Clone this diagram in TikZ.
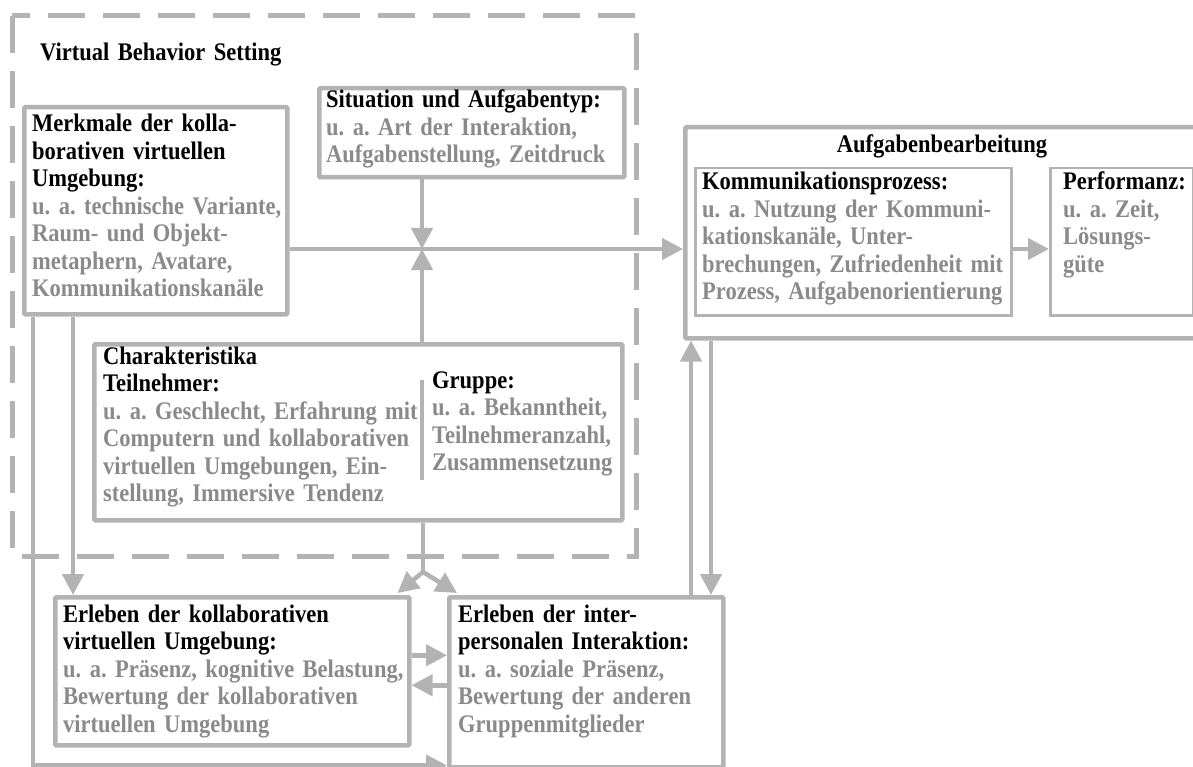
\documentclass[tikz,border=0pt]{standalone}
\usepackage{fontspec}
\setmainfont{Liberation Serif}[FakeStretch=0.89]
\usetikzlibrary{arrows.meta}
\definecolor{lgray}{HTML}{B3B3B3}
\definecolor{tgray}{HTML}{8A8A8A}
\frenchspacing
\begin{document}
\begin{tikzpicture}[x=1pt,y=-1pt,
  box/.style={draw=lgray, line width=4.5pt, inner sep=0pt, anchor=north west, rounded corners=1pt},
  thinbox/.style={draw=lgray, line width=2.5pt, inner sep=0pt, anchor=north west},
  txt/.style={anchor=base west, inner sep=0pt, text width=420pt, align=left,
     font=\fontsize{25.3}{27.5}\selectfont\bfseries\frenchspacing, text=black},
  arr/.style={draw=lgray, line width=4.5pt, -{Triangle[length=21pt,width=21pt]}},
  ln/.style={draw=lgray, line width=4.5pt},
  dashbox/.style={draw=lgray, line width=5pt, dash pattern=on 37pt off 18pt}
]
\useasboundingbox (0,0) rectangle (1193,767);
\clip (0,0) rectangle (1193,767);
% outer dashed setting
\draw[dashbox] (12,16) rectangle (636,556);
\node[txt] (vbs) at (40,61) {Virtual Behavior Setting};

% boxes
\node[box, minimum width=263pt, minimum height=207pt] (merk) at (22,105) {};
\node[box, minimum width=305pt, minimum height=89pt] (sit) at (317,86) {};
\node[box, minimum width=528pt, minimum height=176pt] (char) at (92,342) {};
\node[box, minimum width=530pt, minimum height=211pt] (aufg) at (683,125) {};
\node[thinbox, minimum width=316pt, minimum height=147pt] (komm) at (694,167) {};
\node[thinbox, minimum width=143pt, minimum height=147pt] (perf) at (1049,167) {};
\node[box, minimum width=354pt, minimum height=148pt] (kollab) at (53,595) {};
\node[box, minimum width=274pt, minimum height=170pt] (inter) at (447,595) {};

% texts
\node[txt] (merkT) at (32,132) {Merkmale der kolla-\\borativen virtuellen\\Umgebung:\\\color{tgray}u. a. technische Variante,\\Raum- und Objekt-\\metaphern, Avatare,\\Kommunikationskanäle};
\node[txt] (sitT) at (326,108) {Situation und Aufgabentyp:\\\color{tgray}u. a. Art der Interaktion,\\Aufgabenstellung, Zeitdruck};
\node[txt] (charT) at (103,364) {Charakteristika\\Teilnehmer:\\\color{tgray}u. a. Geschlecht, Erfahrung mit\\Computern und kollaborativen\\virtuellen Umgebungen, Ein-\\stellung, Immersive Tendenz};
\node[txt] (grpT) at (432,388) {Gruppe:\\\color{tgray}u. a. Bekanntheit,\\Teilnehmeranzahl,\\Zusammensetzung};
\node[anchor=base, inner sep=0pt, font=\fontsize{25.3}{27.5}\selectfont\bfseries] (aufgT) at (942,153) {Aufgabenbearbeitung};
\node[txt] (kommT) at (702,190) {Kommunikationsprozess:\\\color{tgray}u. a. Nutzung der Kommuni-\\kationskanäle, Unter-\\brechungen, Zufriedenheit mit\\Prozess, Aufgabenorientierung};
\node[txt] (perfT) at (1063,190) {Performanz:\\\color{tgray}u. a. Zeit,\\Lösungs-\\güte};
\node[txt] (kollabT) at (63,622) {Erleben der kollaborativen\\virtuellen Umgebung:\\\color{tgray}u. a. Präsenz, kognitive Belastung,\\Bewertung der kollaborativen\\virtuellen Umgebung};
\node[txt] (interT) at (458,622) {Erleben der inter-\\personalen Interaktion:\\\color{tgray}u. a. soziale Präsenz,\\Bewertung der anderen\\Gruppenmitglieder};

% separator in Charakteristika
\draw[draw=lgray, line width=3.5pt] ([xshift=330pt,yshift=-38pt]char.north west) -- ([xshift=330pt,yshift=-138pt]char.north west);

% junction
\coordinate (j) at (422,249);
\coordinate (b) at (423,572);

\draw[arr] (merk.east |- j) -- (j -| aufg.west);
\draw[arr] (sit.south -| j) -- (j);
\draw[arr] (char.north -| j) -- (j);
\draw[arr] (komm.east |- j) -- (j -| perf.west);

\draw[arr] ([xshift=51pt]merk.south west) -- ([xshift=51pt]merk.south west |- kollab.north);
\draw[arr] ([xshift=11pt]merk.south west) |- ([yshift=4pt]inter.south west);

\draw[ln] (char.south -| b) -- (b);
\draw[arr] (b) -- ([xshift=-14pt,yshift=2pt]kollab.north east);
\draw[arr] (b) -- ([xshift=10pt,yshift=2pt]inter.north west);

\draw[arr] ([yshift=16pt]kollab.east) -- ([yshift=16pt]kollab.east -| inter.west);
\draw[arr] ([yshift=-14pt]kollab.east -| inter.west) -- ([yshift=-14pt]kollab.east);

\draw[arr] ([xshift=244pt]inter.north west) -- ([xshift=244pt]inter.north west |- aufg.south);
\draw[arr] ([xshift=264pt]inter.north west |- aufg.south) -- ([xshift=264pt]inter.north west);
\end{tikzpicture}
\end{document}
